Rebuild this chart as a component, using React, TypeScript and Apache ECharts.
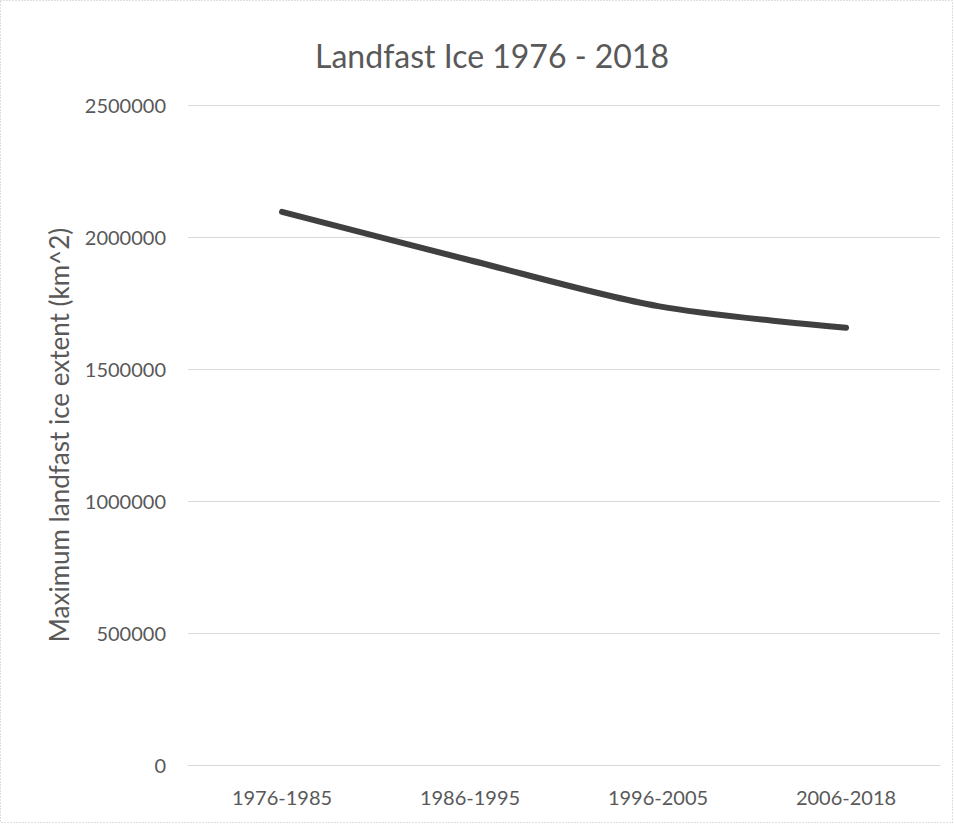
import React, { useEffect, useRef } from "react";
import * as echarts from "echarts";

const categories = ["1976-1985", "1986-1995", "1996-2005", "2006-2018"];
const iceExtent = [2095000, 1912000, 1738000, 1656000];
const yTicks = { min: 0, max: 2500000, interval: 500000 };

export default function App() {
  const ref = useRef<HTMLDivElement>(null);
  useEffect(() => {
    document.body.style.margin = "0";
    const chart = echarts.init(ref.current!, undefined, { renderer: "svg" });
    const font = "Lato, 'Open Sans', sans-serif";
    chart.setOption({
      animation: false,
      backgroundColor: "#ffffff",
      textStyle: { fontFamily: font },
      title: {
        text: "Landfast Ice 1976 - 2018",
        left: 487,
        top: 34,
        textAlign: "center",
        textStyle: { fontFamily: font, fontSize: 32, fontWeight: "normal", color: "#595959" },
      },
      grid: { left: 188, right: 14, top: 105, bottom: 60 },
      xAxis: {
        type: "category",
        data: categories,
        boundaryGap: true,
        axisLine: { show: true, lineStyle: { color: "#d9d9d9", width: 1 } },
        axisTick: { show: false },
        axisLabel: { color: "#595959", fontSize: 20, margin: 22, fontFamily: font },
      },
      yAxis: {
        type: "value",
        min: yTicks.min,
        max: yTicks.max,
        interval: yTicks.interval,
        name: "Maximum landfast ice extent (km^2)",
        nameLocation: "middle",
        nameGap: 116,
        nameTextStyle: { color: "#595959", fontSize: 26, fontFamily: font },
        axisLine: { show: false },
        axisTick: { show: false },
        axisLabel: {
          color: "#595959",
          fontSize: 20,
          margin: 22,
          fontFamily: font,
          formatter: (v: number) => String(v),
        },
        splitLine: { lineStyle: { color: "#d9d9d9", width: 1 } },
      },
      series: [
        {
          type: "line",
          data: iceExtent,
          smooth: 0.3,
          symbol: "none",
          lineStyle: { color: "#404040", width: 6, cap: "round" },
        },
      ],
      graphic: [
        {
          type: "rect",
          shape: { x: 0.5, y: 0.5, width: 952, height: 822 },
          style: { fill: "none", stroke: "#bfbfbf", lineWidth: 1, lineDash: [1, 2] },
        },
      ],
    });
    return () => chart.dispose();
  }, []);
  return <div ref={ref} style={{ position: "absolute", left: 0, top: 0, width: 954, height: 825 }} />;
}
